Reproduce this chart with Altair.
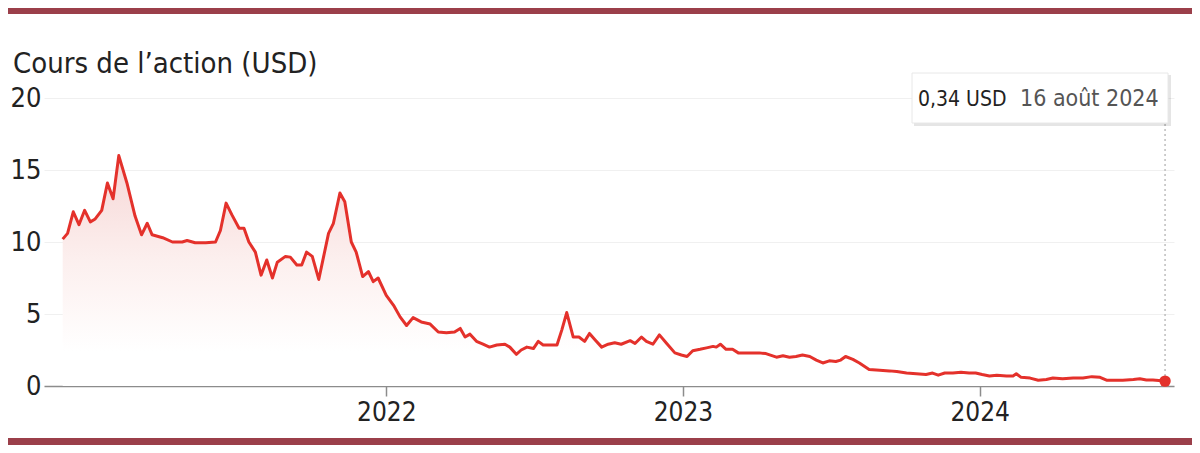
import altair as alt
import pandas as pd

# ---- data ----
dates = [
    "2020-11-29", "2020-12-05", "2020-12-12", "2020-12-19", "2020-12-26",
    "2021-01-02", "2021-01-08", "2021-01-16", "2021-01-23", "2021-01-30",
    "2021-02-06", "2021-02-16", "2021-02-26", "2021-03-06", "2021-03-13",
    "2021-03-19", "2021-04-01", "2021-04-13", "2021-04-25", "2021-05-01",
    "2021-05-11", "2021-05-24", "2021-06-05", "2021-06-11", "2021-06-18",
    "2021-06-25", "2021-07-04", "2021-07-10", "2021-07-16", "2021-07-24",
    "2021-07-31", "2021-08-07", "2021-08-14", "2021-08-20", "2021-08-30",
    "2021-09-05", "2021-09-13", "2021-09-19", "2021-09-25", "2021-10-02",
    "2021-10-10", "2021-10-16", "2021-10-22", "2021-10-28", "2021-11-05",
    "2021-11-11", "2021-11-19", "2021-11-25", "2021-12-03", "2021-12-10",
    "2021-12-16", "2021-12-22",
    "2022-01-01", "2022-01-10", "2022-01-18", "2022-01-26", "2022-02-03",
    "2022-02-13", "2022-02-24", "2022-03-06", "2022-03-16", "2022-03-26",
    "2022-04-02", "2022-04-08", "2022-04-14", "2022-04-22", "2022-04-30",
    "2022-05-08", "2022-05-17", "2022-05-27", "2022-06-02", "2022-06-10",
    "2022-06-16", "2022-06-23", "2022-07-01", "2022-07-07", "2022-07-13",
    "2022-07-21", "2022-07-30", "2022-08-05", "2022-08-11", "2022-08-19",
    "2022-08-26", "2022-09-02", "2022-09-08", "2022-09-15", "2022-09-23",
    "2022-10-01", "2022-10-09", "2022-10-17", "2022-10-28", "2022-11-03",
    "2022-11-11", "2022-11-17", "2022-11-25", "2022-12-03", "2022-12-12",
    "2022-12-22", "2022-12-30",
    "2023-01-06", "2023-01-13", "2023-01-22", "2023-01-30", "2023-02-07",
    "2023-02-11", "2023-02-16", "2023-02-23", "2023-03-03", "2023-03-10",
    "2023-03-20", "2023-04-05", "2023-04-13", "2023-04-26", "2023-05-04",
    "2023-05-12", "2023-05-20", "2023-05-28", "2023-06-06", "2023-06-14",
    "2023-06-22", "2023-06-30", "2023-07-08", "2023-07-14", "2023-07-20",
    "2023-07-29", "2023-08-06", "2023-08-18", "2023-08-31", "2023-09-12",
    "2023-09-21", "2023-10-03", "2023-10-15", "2023-10-27", "2023-11-04",
    "2023-11-11", "2023-11-19", "2023-11-29", "2023-12-09", "2023-12-19",
    "2023-12-27",
    "2024-01-04", "2024-01-13", "2024-01-22", "2024-02-03", "2024-02-11",
    "2024-02-15", "2024-02-21", "2024-03-03", "2024-03-13", "2024-03-23",
    "2024-03-31", "2024-04-12", "2024-04-25", "2024-05-07", "2024-05-18",
    "2024-05-28", "2024-06-05", "2024-06-13", "2024-06-25", "2024-07-08",
    "2024-07-16", "2024-07-24", "2024-08-01", "2024-08-12", "2024-08-16",
]

prices = [
    10.2, 10.6, 12.1, 11.2, 12.2,
    11.4, 11.6, 12.2, 14.1, 13.0,
    16.0, 14.1, 11.8, 10.5, 11.3,
    10.5, 10.3, 10.0, 10.0, 10.1,
    9.95, 9.95, 10.0, 10.8, 12.7,
    11.9, 10.95, 10.95, 10.0, 9.3,
    7.7, 8.75, 7.5, 8.6, 9.0,
    8.95, 8.4, 8.4, 9.3, 9.0,
    7.4, 9.0, 10.6, 11.3, 13.4,
    12.8, 10.0, 9.3, 7.6, 7.95,
    7.25, 7.5,
    6.3, 5.6, 4.8, 4.2, 4.75,
    4.45, 4.3, 3.75, 3.7, 3.75,
    4.0, 3.4, 3.6, 3.1, 2.9,
    2.7, 2.85, 2.9, 2.7, 2.2,
    2.5, 2.7, 2.6, 3.1, 2.85,
    2.85, 2.85, 3.9, 5.1, 3.4,
    3.4, 3.1, 3.65, 3.2, 2.7,
    2.9, 3.0, 2.9, 3.15, 2.95,
    3.4, 3.1, 2.9, 3.55, 2.95,
    2.3, 2.15,
    2.05, 2.45, 2.55, 2.65, 2.75,
    2.7, 2.9, 2.55, 2.55, 2.3,
    2.3, 2.3, 2.25, 2.0, 2.1,
    2.0, 2.05, 2.15, 2.05, 1.8,
    1.6, 1.75, 1.7, 1.8, 2.05,
    1.85, 1.6, 1.15, 1.1, 1.05,
    1.0, 0.9, 0.85, 0.8, 0.9,
    0.75, 0.9, 0.9, 0.95, 0.9,
    0.9,
    0.8, 0.7, 0.75, 0.7, 0.7,
    0.85, 0.6, 0.55, 0.4, 0.45,
    0.55, 0.5, 0.55, 0.55, 0.65,
    0.6, 0.4, 0.4, 0.4, 0.45,
    0.5, 0.42, 0.42, 0.36, 0.34,
]

y_ticks = [0, 5, 10, 15, 20]
x_tick_years = [2022, 2023, 2024]
title_text = "Cours de l\u2019action (USD)"
last_value_label = "0,34 USD"
last_date_label = "16 ao\u00fbt 2024"

assert len(dates) == len(prices)

df = pd.DataFrame({"date": dates, "price": prices})
last = df.tail(1)
one = pd.DataFrame({"k": [0]})

FONT = "Liberation Sans Narrow, DejaVu Sans Condensed, Roboto, sans-serif"
RED = "#e4312b"
BAR = "#9b3f4a"
W, H = 1130, 288

x_scale = alt.Scale(
    type="utc",
    domain=[alt.DateTime(year=2020, month=11, date=6, utc=True),
            alt.DateTime(year=2024, month=8, date=27, utc=True)],
)
y_scale = alt.Scale(domain=[0, 20], nice=False)

x_enc = alt.X(
    "date:T", scale=x_scale, title=None,
    axis=alt.Axis(
        values=[alt.DateTime(year=yy, month=1, date=1, utc=True) for yy in x_tick_years],
        format="%Y", grid=False, domainColor="#8c8c8c", domainWidth=1.5,
        tickColor="#8c8c8c", tickWidth=1.5, tickSize=10, labelPadding=3,
        labelFont=FONT, labelFontSize=26, labelColor="#222222",
    ),
)
y_enc = alt.Y(
    "price:Q", scale=y_scale, title=None,
    axis=alt.Axis(
        values=y_ticks, grid=True, gridColor="#f0f0f0", gridWidth=1,
        domain=False, ticks=False, labelPadding=3,
        labelFont=FONT, labelFontSize=27, labelColor="#222222",
    ),
)

gradient = {
    "gradient": "linear", "x1": 1, "x2": 1, "y1": 0, "y2": 1,
    "stops": [
        {"offset": 0, "color": "#f6d6d5"},
        {"offset": 0.45, "color": "#fcefee"},
        {"offset": 0.85, "color": "#ffffff"},
    ],
}

area = alt.Chart(df).mark_area(color=gradient).encode(x=x_enc, y=y_enc)
line = alt.Chart(df).mark_line(color=RED, strokeWidth=3, strokeJoin="round").encode(
    x="date:T", y="price:Q")

guide = alt.Chart(last).mark_rule(color="#bdbdbd", strokeWidth=1.5, strokeDash=[2, 3]).encode(
    x="date:T", y="price:Q", y2=alt.value(25))
dot = alt.Chart(last).mark_circle(color=RED, size=130, opacity=1).encode(
    x="date:T", y="price:Q")

shadow = alt.Chart(one).mark_rect(color="#000000", opacity=0.10).encode(
    x=alt.value(870), x2=alt.value(1127), y=alt.value(-23), y2=alt.value(28))
box = alt.Chart(one).mark_rect(fill="#ffffff", stroke="#e8e8e8", strokeWidth=1).encode(
    x=alt.value(868), x2=alt.value(1124), y=alt.value(-25), y2=alt.value(25))
val_txt = alt.Chart(one).mark_text(
    align="left", baseline="alphabetic", font=FONT, fontSize=21, color="#222222"
).encode(x=alt.value(874), y=alt.value(8), text=alt.value(last_value_label))
date_txt = alt.Chart(one).mark_text(
    align="left", baseline="alphabetic", font=FONT, fontSize=23, color="#555555"
).encode(x=alt.value(976), y=alt.value(8), text=alt.value(last_date_label))

title = alt.Chart(one).mark_text(
    align="left", baseline="alphabetic", font=FONT, fontSize=29, color="#222222"
).encode(x=alt.value(-31), y=alt.value(-25), text=alt.value(title_text))

top_bar = alt.Chart(one).mark_rect(color=BAR).encode(
    x=alt.value(-36), x2=alt.value(W + 18), y=alt.value(-90), y2=alt.value(-84))
bottom_bar = alt.Chart(one).mark_rect(color=BAR).encode(
    x=alt.value(-36), x2=alt.value(W + 18), y=alt.value(H + 52), y2=alt.value(H + 59))

chart = alt.layer(
    area, line, guide, dot, shadow, box, val_txt, date_txt, title, top_bar, bottom_bar
).properties(
    width=W, height=H,
    padding={"left": 36, "top": 90, "right": 18, "bottom": 59},
    autosize=alt.AutoSizeParams(type="none"),
    background="#ffffff",
).configure_view(stroke=None)

chart.save("out.html", embed_options={"renderer": "svg", "actions": False})
